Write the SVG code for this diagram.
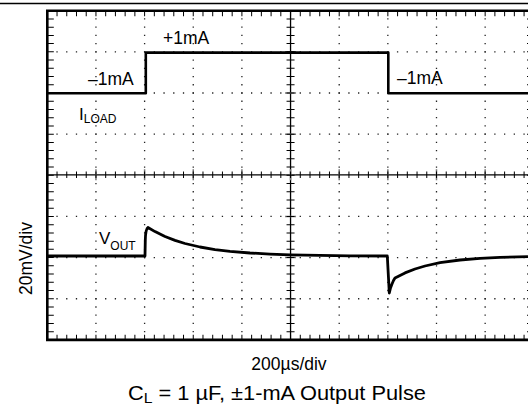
<svg xmlns="http://www.w3.org/2000/svg" width="528" height="406" viewBox="0 0 528 406">
  <style>
    .lbl { font-family: "Liberation Sans", Arial, sans-serif; fill: #000; }
    .hdot { stroke: #222; stroke-width: 1.3; stroke-dasharray: 1.3 8.43; fill: none; }
    .vdot { stroke: #222; stroke-width: 1.3; stroke-dasharray: 1.3 6.93; fill: none; }
    .hmin { stroke: #000; stroke-dasharray: 1 8.73; fill: none; }
    .vmin { stroke: #000; stroke-dasharray: 1 7.23; fill: none; }
    .trace { stroke: #000; fill: none; stroke-linejoin: round; }
  </style>
  <rect width="528" height="406" fill="#fff"/>
  <line x1="0" y1="3.5" x2="528" y2="3.5" stroke="#000" stroke-width="1.3"/>

  <g id="grid">
    <!-- horizontal dotted grid lines -->
    <line class="hdot" x1="46.65" y1="51.85" x2="535" y2="51.85"/>
    <line class="hdot" x1="46.65" y1="93" x2="535" y2="93"/>
    <line class="hdot" x1="46.65" y1="134.15" x2="535" y2="134.15"/>
    <line class="hdot" x1="46.65" y1="216.45" x2="535" y2="216.45"/>
    <line class="hdot" x1="46.65" y1="257.6" x2="535" y2="257.6"/>
    <line class="hdot" x1="46.65" y1="298.75" x2="535" y2="298.75"/>
    <!-- vertical dotted grid lines -->
    <line class="vdot" x1="95.95" y1="10.05" x2="95.95" y2="340"/>
    <line class="vdot" x1="144.6" y1="10.05" x2="144.6" y2="340"/>
    <line class="vdot" x1="193.25" y1="10.05" x2="193.25" y2="340"/>
    <line class="vdot" x1="241.9" y1="10.05" x2="241.9" y2="340"/>
    <line class="vdot" x1="339.2" y1="10.05" x2="339.2" y2="340"/>
    <line class="vdot" x1="387.85" y1="10.05" x2="387.85" y2="340"/>
    <line class="vdot" x1="436.5" y1="10.05" x2="436.5" y2="340"/>
    <line class="vdot" x1="485.15" y1="10.05" x2="485.15" y2="340"/>
    <!-- center axes -->
    <line x1="47" y1="174.8" x2="535" y2="174.8" stroke="#000" stroke-width="1.3"/>
    <line x1="290.55" y1="10.7" x2="290.55" y2="340" stroke="#000" stroke-width="1.3"/>
    <!-- major ticks on axes (gray) -->
    <line x1="46.55" y1="174.8" x2="535" y2="174.8" stroke="#777" stroke-width="11" stroke-dasharray="1.5 47.15"/>
    <line x1="290.55" y1="9.95" x2="290.55" y2="340" stroke="#777" stroke-width="11" stroke-dasharray="1.5 39.65"/>
    <!-- minor ticks on axes -->
    <line class="hmin" x1="46.8" y1="174.8" x2="535" y2="174.8" stroke-width="6.6"/>
    <line class="vmin" x1="290.55" y1="10.2" x2="290.55" y2="340" stroke-width="8"/>
    <!-- border ticks -->
    <line class="hmin" x1="46.8" y1="13.5" x2="535" y2="13.5" stroke-width="5.6"/>
    <line class="hmin" x1="46.8" y1="337.3" x2="535" y2="337.3" stroke-width="5.2"/>
    <line class="vmin" x1="50.5" y1="10.2" x2="50.5" y2="340" stroke-width="6.6"/>
    <line class="vmin" x1="531.5" y1="10.2" x2="531.5" y2="340" stroke-width="9"/>
    <!-- frame -->
    <path d="M535,10.7 H47.3 V339.9 H535" fill="none" stroke="#000" stroke-width="2.6"/>
  </g>

  <g id="traces">
    <path id="iload" class="trace" stroke-width="2.6" d="M47.3,93.3 H145.8 V52.6 H388.3 V93.3 H535"/>
    <path id="vout" class="trace" stroke-width="2.8" d="M47.3,256 H145 L145.3,240 Q145.6,229 148,227.5 L155,231.6 L165,236.5 L175,240.4 L185,243.5 L200,247 L215,249.6 L230,251.4 L250,253 L270,254.1 L290,254.8 L320,255.4 L350,255.8 L387.3,256 L389.3,293 L390.5,288 L392,284 L393.5,280.5 L395,278 L405,272.9 L415,269 L425,266 L440,262.7 L460,260 L480,258.4 L500,257.4 L528,256.7"/>
  </g>

  <g id="labels">
    <text class="lbl" x="163" y="44" font-size="17.5">+1mA</text>
    <text class="lbl" x="88" y="85" font-size="17.5">–1mA</text>
    <text class="lbl" x="397" y="84" font-size="17.5">–1mA</text>
    <text class="lbl" x="79" y="120" font-size="17">I<tspan font-size="12" dy="3">LOAD</tspan></text>
    <text class="lbl" x="99" y="244" font-size="17">V<tspan font-size="12" dy="6">OUT</tspan></text>
    <text class="lbl" x="0" y="0" font-size="17.5" text-anchor="middle" transform="translate(32,258.5) rotate(-90)">20mV/div</text>
    <text class="lbl" x="289" y="370" font-size="17.5" text-anchor="middle">200µs/div</text>
    <text class="lbl" x="128" y="400" font-size="19.5" textLength="298" lengthAdjust="spacingAndGlyphs">C<tspan font-size="14" dy="3">L</tspan><tspan dy="-3"> = 1 µF, ±1-mA Output Pulse</tspan></text>
  </g>
</svg>
